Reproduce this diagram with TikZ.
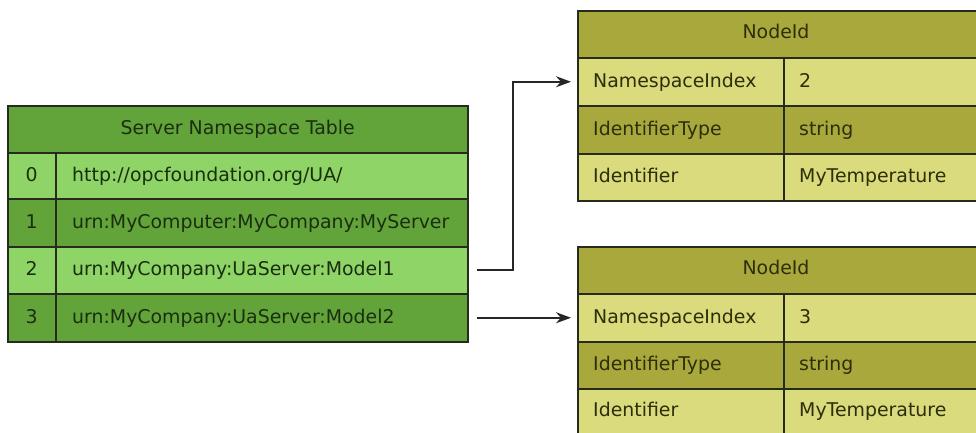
\documentclass[tikz,border=0pt]{standalone}
\usepackage{fontspec}
\setmainfont{DejaVu Sans}
\usetikzlibrary{arrows.meta}
\definecolor{gdark}{HTML}{63A43A}
\definecolor{glight}{HTML}{8FD466}
\definecolor{odark}{HTML}{A8A83C}
\definecolor{olight}{HTML}{D9DB7C}
\definecolor{gtxt}{HTML}{1A2E10}
\definecolor{otxt}{HTML}{2E2E0A}
\definecolor{edge}{HTML}{262B1E}
\newcommand\cellbox[6]{\node[cell, fill=#2, minimum width=#5, minimum height=#6] (#1) at (#3,#4) {};}
\begin{document}
\begin{tikzpicture}[x=1pt,y=-1pt,
  cell/.style={draw=edge, line width=1.5pt, inner sep=0pt, anchor=north west},
  base/.style={font=\fontsize{18.9}{20}\selectfont, inner sep=0pt, text height=13.5pt, text depth=3pt},
  gt/.style={base, text=gtxt},
  ot/.style={base, text=otxt},
  conn/.style={draw=black!85, line width=1.8pt, -{Stealth[length=15pt,width=11pt]}}]
\useasboundingbox (0,0) rectangle (976,432);
% Left table
\cellbox{lh}{gdark}{7}{105}{460}{47}
\cellbox{n0}{glight}{7}{152}{48}{46}
\cellbox{u0}{glight}{55}{152}{412}{46}
\cellbox{n1}{gdark}{7}{198}{48}{48}
\cellbox{u1}{gdark}{55}{198}{412}{48}
\cellbox{n2}{glight}{7}{246}{48}{47}
\cellbox{u2}{glight}{55}{246}{412}{47}
\cellbox{n3}{gdark}{7}{293}{48}{48}
\cellbox{u3}{gdark}{55}{293}{412}{48}
\node[gt] (lht) at (lh.center) {Server Namespace Table};
\node[gt] (n0t) at (n0.center) {0};
\node[gt] (n1t) at (n1.center) {1};
\node[gt] (n2t) at (n2.center) {2};
\node[gt] (n3t) at (n3.center) {3};
\node[gt, anchor=west] (u0t) at ([xshift=17pt]u0.west) {http://opcfoundation.org/UA/};
\node[gt, anchor=west] (u1t) at ([xshift=17pt]u1.west) {urn:MyComputer:MyCompany:MyServer};
\node[gt, anchor=west] (u2t) at ([xshift=17pt]u2.west) {urn:MyCompany:UaServer:Model1};
\node[gt, anchor=west] (u3t) at ([xshift=17pt]u3.west) {urn:MyCompany:UaServer:Model2};
% Top right table
\cellbox{ah}{odark}{577}{10}{420}{47}
\cellbox{a1k}{olight}{577}{57}{206}{48}
\cellbox{a1v}{olight}{783}{57}{214}{48}
\cellbox{a2k}{odark}{577}{105}{206}{48}
\cellbox{a2v}{odark}{783}{105}{214}{48}
\cellbox{a3k}{olight}{577}{153}{206}{47}
\cellbox{a3v}{olight}{783}{153}{214}{47}
\node[ot] (aht) at (776,33.5) {NodeId};
\node[ot, anchor=west] (a1kt) at ([xshift=16pt]a1k.west) {NamespaceIndex};
\node[ot, anchor=west] (a1vt) at ([xshift=16pt]a1v.west) {2};
\node[ot, anchor=west] (a2kt) at ([xshift=16pt]a2k.west) {IdentifierType};
\node[ot, anchor=west] (a2vt) at ([xshift=16pt]a2v.west) {string};
\node[ot, anchor=west] (a3kt) at ([xshift=16pt]a3k.west) {Identifier};
\node[ot, anchor=west] (a3vt) at ([xshift=16pt]a3v.west) {MyTemperature};
% Bottom right table
\cellbox{bh}{odark}{577}{246}{420}{47}
\cellbox{b1k}{olight}{577}{293}{206}{48}
\cellbox{b1v}{olight}{783}{293}{214}{48}
\cellbox{b2k}{odark}{577}{341}{206}{47}
\cellbox{b2v}{odark}{783}{341}{214}{47}
\cellbox{b3k}{olight}{577}{388}{206}{60}
\cellbox{b3v}{olight}{783}{388}{214}{60}
\node[ot] (bht) at (776,269.5) {NodeId};
\node[ot, anchor=west] (b1kt) at ([xshift=16pt]b1k.west) {NamespaceIndex};
\node[ot, anchor=west] (b1vt) at ([xshift=16pt]b1v.west) {3};
\node[ot, anchor=west] (b2kt) at ([xshift=16pt]b2k.west) {IdentifierType};
\node[ot, anchor=west] (b2vt) at ([xshift=16pt]b2v.west) {string};
\node[ot, anchor=west] (b3kt) at (593,411) {Identifier};
\node[ot, anchor=west] (b3vt) at (799,411) {MyTemperature};
% Connectors
\coordinate (bend) at (513,0);
\draw[conn, shorten <=8pt, shorten >=6pt] (u2.east) -| (bend |- a1k.west) -- (a1k.west);
\draw[conn, shorten <=8pt, shorten >=6pt] (u3.east) -- (b1k.west);
\end{tikzpicture}
\end{document}
